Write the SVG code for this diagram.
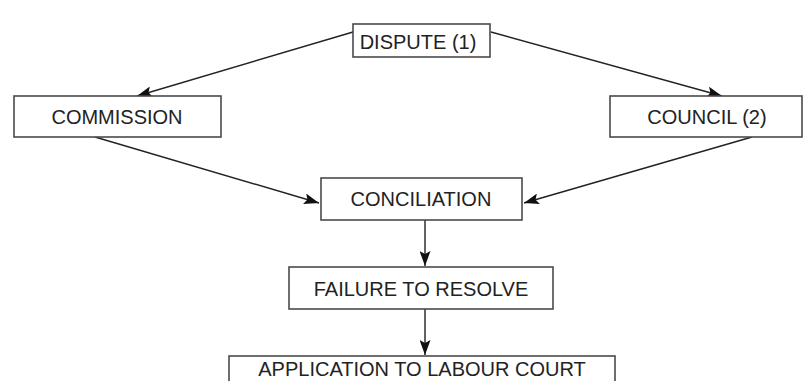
<svg xmlns="http://www.w3.org/2000/svg" width="804" height="381" viewBox="0 0 804 381">
<defs>
<marker id="ah" markerUnits="userSpaceOnUse" markerWidth="15" markerHeight="11" refX="15" refY="5.5" orient="auto">
<path d="M0,0 L15,5.5 L0,11 L3,5.5 Z" fill="#111"/>
</marker>
<style>
.box{fill:#fff;stroke:#4a4a4a;stroke-width:1.6}
.t{font-family:"Liberation Sans",Arial,sans-serif;font-size:20px;fill:#222;text-anchor:middle}
.c{stroke:#222;stroke-width:1.4;fill:none;marker-end:url(#ah)}
</style>
</defs>
<rect width="804" height="381" fill="#fff"/>
<g id="connectors">
<line class="c" x1="353" y1="32" x2="137" y2="96"/>
<line class="c" x1="491" y1="32" x2="722" y2="96"/>
<line class="c" x1="95" y1="137" x2="319" y2="203"/>
<line class="c" x1="752" y1="137" x2="524" y2="203"/>
<line class="c" x1="425" y1="220" x2="425" y2="266"/>
<line class="c" x1="425" y1="309" x2="425" y2="355"/>
</g>
<g id="dispute">
<rect class="box" x="353" y="24" width="137" height="33"/>
<text class="t" x="418" y="49">DISPUTE (1)</text>
</g>
<g id="commission">
<rect class="box" x="14" y="96" width="207" height="41"/>
<text class="t" x="117" y="124">COMMISSION</text>
</g>
<g id="council">
<rect class="box" x="610" y="96" width="192" height="41"/>
<text class="t" x="707" y="124">COUNCIL (2)</text>
</g>
<g id="conciliation">
<rect class="box" x="321" y="178" width="201" height="42"/>
<text class="t" x="421" y="206">CONCILIATION</text>
</g>
<g id="failure">
<rect class="box" x="289" y="267" width="264" height="42"/>
<text class="t" x="421" y="296">FAILURE TO RESOLVE</text>
</g>
<g id="application">
<rect class="box" x="229" y="356" width="386" height="40"/>
<text class="t" x="422" y="376">APPLICATION TO LABOUR COURT</text>
</g>
</svg>
